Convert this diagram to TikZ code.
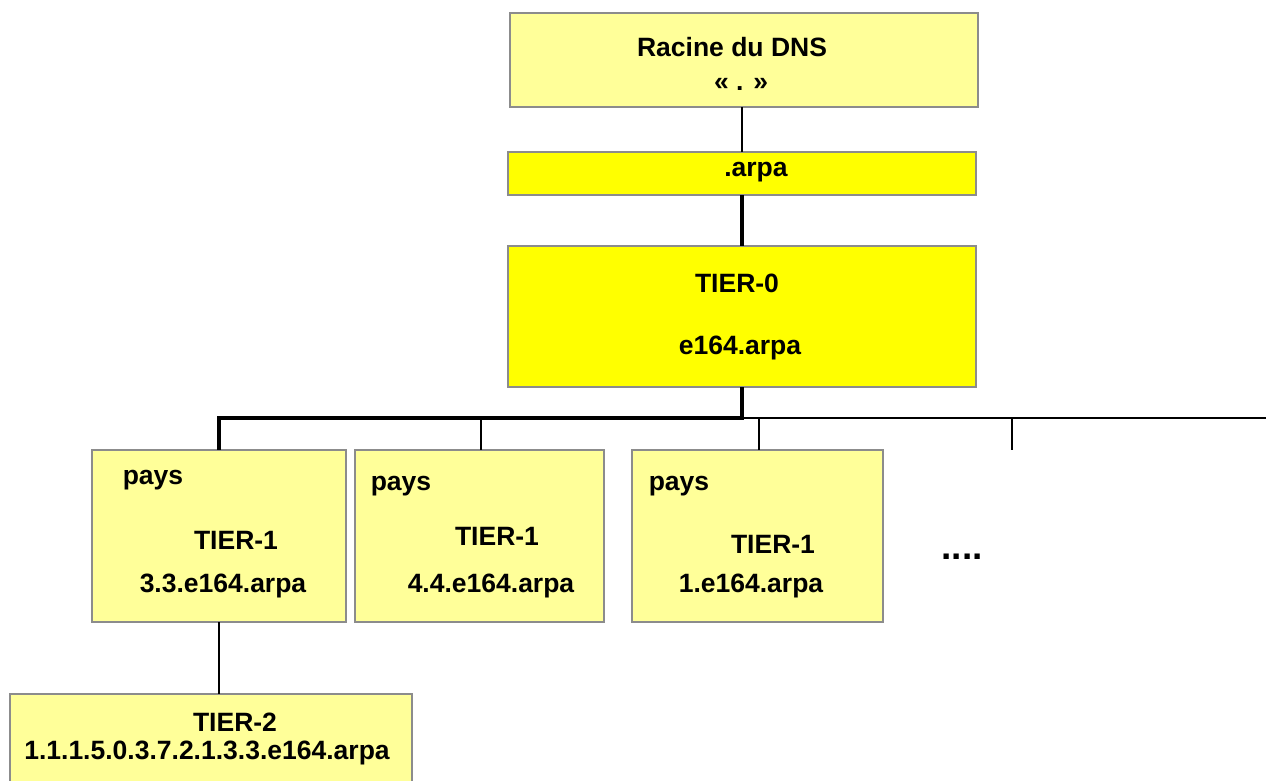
\documentclass[tikz,border=0pt]{standalone}
\usepackage{fontspec}
\setmainfont{Liberation Sans}
\definecolor{lightyel}{HTML}{FFFF99}
\definecolor{fullyel}{HTML}{FFFF00}
\definecolor{boxgray}{HTML}{8C8C8C}
\begin{document}
\begin{tikzpicture}[x=1pt,y=-1pt,
  box/.style={draw=boxgray,line width=1.4pt,inner sep=0pt,outer sep=0pt},
  lbox/.style={box,fill=lightyel},
  ybox/.style={box,fill=fullyel},
  txt/.style={font=\bfseries\fontsize{26.5}{31}\selectfont,inner sep=0pt,anchor=base},
  thinline/.style={line width=1.3pt,black},
  thickline/.style={line width=3.2pt,black}]
\useasboundingbox (0,0) rectangle (1266,781);
\fill[white] (0,0) rectangle (1266,781);
% boxes
\draw[lbox] (510,13) rectangle (978,107);
\node[inner sep=0pt,minimum width=468pt,minimum height=94pt] (root) at (744,60) {};
\draw[ybox] (508,152) rectangle (976,195);
\node[inner sep=0pt,minimum width=468pt,minimum height=43pt] (arpa) at (742,173.5) {};
\draw[ybox] (508,246) rectangle (976,387);
\node[inner sep=0pt,minimum width=468pt,minimum height=141pt] (tier0) at (742,316.5) {};
\draw[lbox] (92,450) rectangle (346,622);
\node[inner sep=0pt,minimum width=254pt,minimum height=172pt] (b1) at (219,536) {};
\draw[lbox] (355,450) rectangle (604,622);
\node[inner sep=0pt,minimum width=249pt,minimum height=172pt] (b2) at (481,536) {};
\draw[lbox] (632,450) rectangle (883,622);
\node[inner sep=0pt,minimum width=251pt,minimum height=172pt] (b3) at (759,536) {};
\draw[lbox] (10,694) rectangle (412,790);
\node[inner sep=0pt,minimum width=402pt,minimum height=96pt] (t2) at (211,742) {};
% texts
\node[txt] (rt1) at (732,57) {Racine du DNS};
\node[txt] (rt2) at (741,91) {« . »};
\node[txt] (at) at (756,176) {.arpa};
\node[txt] (t0a) at (737,292) {TIER-0};
\node[txt] (t0b) at (740,354) {e164.arpa};
\node[txt] (p1) at (153,484) {pays};
\node[txt] (p1b) at (236,549) {TIER-1};
\node[txt] (p1c) at (223,592) {3.3.e164.arpa};
\node[txt] (p2) at (401,490) {pays};
\node[txt] (p2b) at (497,545) {TIER-1};
\node[txt] (p2c) at (491,592) {4.4.e164.arpa};
\node[txt] (p3) at (679,490) {pays};
\node[txt] (p3b) at (773,553) {TIER-1};
\node[txt] (p3c) at (751,592) {1.e164.arpa};
\node[txt,font=\bfseries\fontsize{37}{40}\selectfont] (dots) at (962,559) {....};
\node[txt] (t2a) at (235,731) {TIER-2};
\node[txt] (t2b) at (207,759) {1.1.1.5.0.3.7.2.1.3.3.e164.arpa};
% connectors
\coordinate (bus) at (742,418);
\coordinate (busend) at (1266,418);
\coordinate (c4) at (1012,450);
\draw[thinline] (tier0.north |- root.south) -- (tier0.north |- arpa.north);
\draw[thickline] (tier0.north |- arpa.south) -- (tier0.north);
\draw[thickline,line join=miter] (tier0.south) -- (bus) -- (bus -| b1.north) -- (b1.north);
\draw[thinline] (bus) -- (busend);
\draw[thinline] (bus -| b2.north) -- (b2.north);
\draw[thinline] (bus -| b3.north) -- (b3.north);
\draw[thinline] (bus -| c4) -- (c4);
\draw[thinline] (b1.south) -- (b1.south |- t2.north);
\end{tikzpicture}
\end{document}
